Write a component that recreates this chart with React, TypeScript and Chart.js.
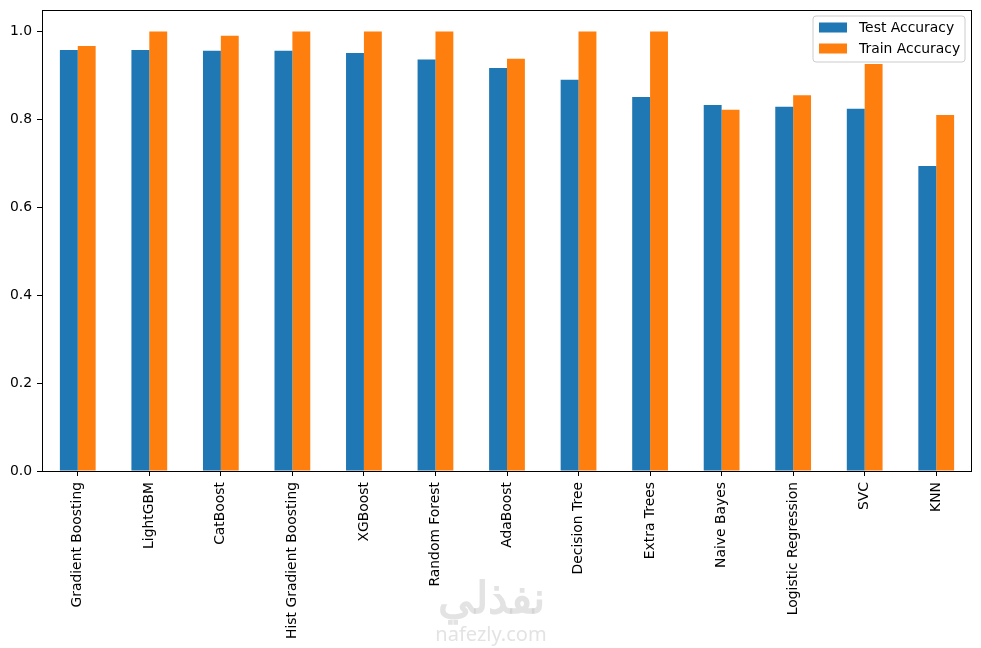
import React, { useEffect, useRef } from "react";
import { Chart, registerables } from "chart.js";

Chart.register(...registerables);

const categories = [
  "Gradient Boosting",
  "LightGBM",
  "CatBoost",
  "Hist Gradient Boosting",
  "XGBoost",
  "Random Forest",
  "AdaBoost",
  "Decision Tree",
  "Extra Trees",
  "Naive Bayes",
  "Logistic Regression",
  "SVC",
  "KNN",
];
const testAccuracy = [0.958, 0.958, 0.956, 0.956, 0.951, 0.936, 0.917, 0.89, 0.851, 0.833, 0.829, 0.824, 0.694];
const trainAccuracy = [0.967, 1.0, 0.99, 1.0, 1.0, 1.0, 0.938, 1.0, 1.0, 0.822, 0.855, 0.926, 0.81];
const seriesLabels = ["Test Accuracy", "Train Accuracy"];
const seriesColors = ["#1f77b4", "#ff7f0e"];
const yTicks = [0, 0.2, 0.4, 0.6, 0.8, 1.0];

const FONT = "'DejaVu Sans', sans-serif";

const framePlugin = {
  id: "frameAndLegend",
  afterDraw(chart: any) {
    const { ctx, chartArea } = chart;
    const { left, top, right, bottom } = chartArea;
    ctx.save();
    // frame
    const l = Math.round(left) + 0.5;
    const t = Math.round(top) + 0.5;
    const rr = Math.round(right) - 0.5;
    const bb = Math.round(bottom) + 0.5;
    ctx.strokeStyle = "#000";
    ctx.lineWidth = 1;
    ctx.strokeRect(l, t, rr - l, bb - t);
    // legend
    const bx = right - 159;
    const by = top + 6.5;
    const bw = 152;
    const bh = 46;
    const r = 3;
    ctx.beginPath();
    ctx.moveTo(bx + r, by);
    ctx.lineTo(bx + bw - r, by);
    ctx.quadraticCurveTo(bx + bw, by, bx + bw, by + r);
    ctx.lineTo(bx + bw, by + bh - r);
    ctx.quadraticCurveTo(bx + bw, by + bh, bx + bw - r, by + bh);
    ctx.lineTo(bx + r, by + bh);
    ctx.quadraticCurveTo(bx, by + bh, bx, by + bh - r);
    ctx.lineTo(bx, by + r);
    ctx.quadraticCurveTo(bx, by, bx + r, by);
    ctx.closePath();
    ctx.fillStyle = "rgba(255,255,255,0.8)";
    ctx.fill();
    ctx.strokeStyle = "#cccccc";
    ctx.lineWidth = 1;
    ctx.stroke();
    chart.data.datasets.forEach((ds: any, i: number) => {
      const rowY = by + 6.5 + i * 21;
      ctx.fillStyle = ds.backgroundColor;
      ctx.fillRect(bx + 6, rowY, 28, 10);
      ctx.fillStyle = "#000";
      ctx.font = `13.9px ${FONT}`;
      ctx.textBaseline = "middle";
      ctx.textAlign = "left";
      ctx.fillText(ds.label, bx + 46, rowY + 5.5);
    });
    // watermark
    ctx.fillStyle = "rgba(200,200,200,0.5)";
    ctx.textAlign = "center";
    ctx.textBaseline = "middle";
    ctx.font = `bold 44px 'Noto Sans', sans-serif`;
    ctx.fillText("نفذلي", 491, 600);
    ctx.font = `20px 'Noto Sans', sans-serif`;
    ctx.fillText("nafezly.com", 491, 635);
    ctx.restore();
  },
};

export default function App() {
  const canvasRef = useRef<HTMLCanvasElement | null>(null);

  useEffect(() => {
    if (!canvasRef.current) return;
    const chart = new Chart(canvasRef.current, {
      type: "bar",
      data: {
        labels: categories,
        datasets: [
          {
            label: seriesLabels[0],
            data: testAccuracy,
            backgroundColor: seriesColors[0],
            borderWidth: 0,
          },
          {
            label: seriesLabels[1],
            data: trainAccuracy,
            backgroundColor: seriesColors[1],
            borderWidth: 0,
          },
        ],
      },
      options: {
        responsive: false,
        animation: false,
        devicePixelRatio: 1,
        layout: { padding: { top: 9.5, right: 9, left: 0, bottom: 0 } },
        datasets: {
          bar: { categoryPercentage: 0.5, barPercentage: 1.0 },
        },
        plugins: {
          legend: { display: false },
          tooltip: { enabled: false },
        },
        scales: {
          x: {
            offset: true,
            grid: {
              display: true,
              drawOnChartArea: false,
              drawTicks: true,
              tickLength: 5,
              color: "#000",
              offset: false,
            },
            border: { display: false },
            ticks: {
              color: "#000",
              font: { family: FONT, size: 13.9 },
              maxRotation: 90,
              minRotation: 90,
              autoSkip: false,
              padding: 6,
            },
            afterFit(scale: any) {
              scale.height = 177;
              scale.paddingLeft = 0;
              scale.paddingRight = 0;
            },
          },
          y: {
            min: 0,
            max: 1.05,
            grid: {
              display: true,
              drawOnChartArea: false,
              drawTicks: true,
              tickLength: 5,
              color: "#000",
            },
            border: { display: false },
            ticks: {
              color: "#000",
              font: { family: FONT, size: 13.9 },
              padding: 5,
              callback: (v: any) => Number(v).toFixed(1),
            },
            afterBuildTicks(scale: any) {
              scale.ticks = yTicks.map((v) => ({ value: v }));
            },
            afterFit(scale: any) {
              scale.width = 42;
              scale.paddingTop = 0;
              scale.paddingBottom = 0;
            },
          },
        },
      },
      plugins: [framePlugin],
    });
    return () => chart.destroy();
  }, []);

  return (
    <div style={{ position: "absolute", left: 0, top: 0, width: 981, height: 648, background: "#fff" }}>
      <canvas ref={canvasRef} width={981} height={648} />
    </div>
  );
}
